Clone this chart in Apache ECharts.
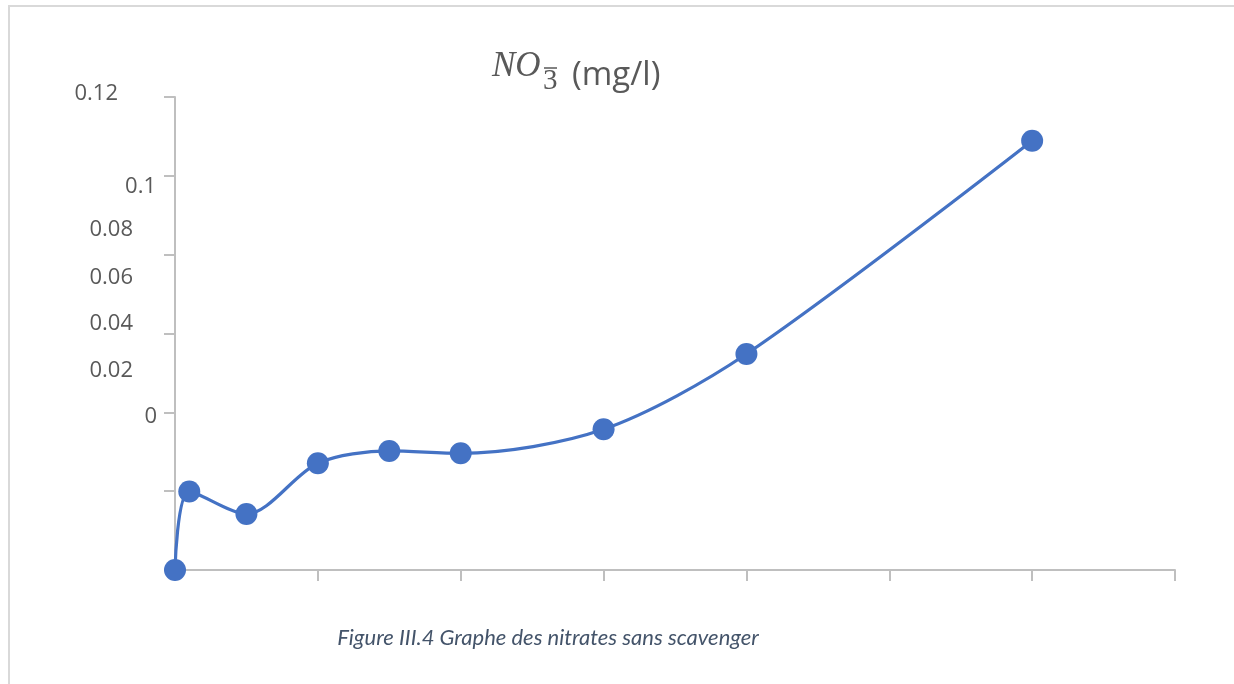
<!DOCTYPE html>
<html>
<head>
<meta charset="utf-8">
<style>
  html, body { margin: 0; padding: 0; background: #ffffff; }
  #chart { width: 1234px; height: 684px; }
</style>
<script src="https://cdn.jsdelivr.net/npm/echarts@6/dist/echarts.min.js"></script>
</head>
<body>
<div id="chart"></div>
<script>
// Sampling times (min) and nitrate concentration NO3- (mg/l)
const times = [0, 3, 15, 30, 45, 60, 90, 120, 180];
const nitrate = [0, 0.0199, 0.0142, 0.0271, 0.0302, 0.0296, 0.0357, 0.0548, 0.1089];

// Printed vertical-axis labels, top to bottom
const yTickLabels = ['0.12', '0.1', '0.08', '0.06', '0.04', '0.02', '0'];

const titleMain = 'NO';
const titleSub = '3';
const titleUnit = '(mg/l)';
const caption = 'Figure III.4 Graphe des nitrates sans scavenger';

const AXIS_GREY = '#bfbfbf';
const TEXT_GREY = '#595959';
const LINE_BLUE = '#4472c4';

// Where each printed label sits beside the vertical axis (right edge, middle)
const labelSpots = [[118, 94], [156, 187], [133, 230], [133, 278], [133, 324], [133, 371], [157, 417]];

const tickTexts = yTickLabels.map((t, i) => ({
  type: 'text',
  x: labelSpots[i][0],
  y: labelSpots[i][1],
  style: {
    text: t,
    font: '22px "Open Sans"',
    fill: TEXT_GREY,
    align: 'right', textAlign: 'right',
    verticalAlign: 'middle', textVerticalAlign: 'middle'
  }
}));

const chart = echarts.init(document.getElementById('chart'), null, { renderer: 'canvas' });

chart.setOption({
  backgroundColor: '#ffffff',
  animation: false,
  grid: { left: 175, right: 59, top: 97, bottom: 114, containLabel: false },
  xAxis: {
    type: 'value',
    min: 0, max: 210, interval: 30,
    axisLine: { show: true, lineStyle: { color: AXIS_GREY, width: 2 } },
    axisTick: { show: true, length: 11, lineStyle: { color: AXIS_GREY, width: 2 } },
    axisLabel: { show: false },
    splitLine: { show: false }
  },
  yAxis: {
    type: 'value',
    min: 0, max: 0.12, interval: 0.02,
    axisLine: { show: true, onZero: false, lineStyle: { color: AXIS_GREY, width: 2 } },
    axisTick: { show: true, length: 11, lineStyle: { color: AXIS_GREY, width: 2 } },
    axisLabel: { show: false },
    splitLine: { show: false }
  },
  series: [{
    type: 'line',
    data: times.map((t, i) => [t, nitrate[i]]),
    smooth: 0.3,
    symbol: 'circle',
    symbolSize: 22,
    lineStyle: { color: LINE_BLUE, width: 3.2 },
    itemStyle: { color: LINE_BLUE },
    z: 3
  }],
  graphic: [
    {
      type: 'rect',
      shape: { x: 9, y: 6, width: 1240, height: 700 },
      style: { fill: 'none', stroke: '#d9d9d9', lineWidth: 2 },
      silent: true
    },
    // Title: NO3 with overlined subscript, then unit
    {
      type: 'text', x: 492, y: 84,
      style: { text: titleMain, font: 'italic 35px "Liberation Serif"', fill: TEXT_GREY,
               align: 'left', textAlign: 'left', verticalAlign: 'bottom', textVerticalAlign: 'bottom' }
    },
    {
      type: 'text', x: 543, y: 96,
      style: { text: titleSub, font: '29px "Liberation Serif"', fill: TEXT_GREY,
               align: 'left', textAlign: 'left', verticalAlign: 'bottom', textVerticalAlign: 'bottom' }
    },
    {
      type: 'line', shape: { x1: 544, y1: 68, x2: 557, y2: 68 },
      style: { stroke: TEXT_GREY, lineWidth: 1.5 }
    },
    {
      type: 'text', x: 572, y: 76,
      style: { text: titleUnit, font: '33px "Open Sans"', fill: TEXT_GREY,
               align: 'left', textAlign: 'left', verticalAlign: 'middle', textVerticalAlign: 'middle' }
    },
    {
      type: 'text', x: 548, y: 638,
      style: { text: caption, font: 'italic 22px Lato', fill: '#44546a',
               align: 'center', textAlign: 'center', verticalAlign: 'middle', textVerticalAlign: 'middle' }
    }
  ].concat(tickTexts)
});
</script>
</body>
</html>
